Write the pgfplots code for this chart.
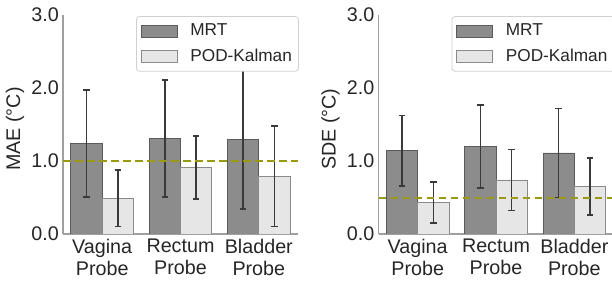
\documentclass[border=0pt]{standalone}
\usepackage{pgfplots}
\pgfplotsset{compat=1.18}
\usepackage{pgfplotstable}
\usepackage{fontspec}
\setmainfont{Liberation Sans}
\definecolor{mrt}{HTML}{8C8C8C}
\definecolor{mrtedge}{HTML}{5A5A5A}
\definecolor{pod}{HTML}{E6E6E6}
\definecolor{podedge}{HTML}{8A8A8A}
\definecolor{errc}{HTML}{3A3A3A}
\definecolor{olivec}{HTML}{9A9A10}
\definecolor{tickc}{HTML}{262626}
\definecolor{spine}{HTML}{A0A0A0}
\definecolor{legedge}{HTML}{D0D0D0}
\newcommand\tickfont{\fontsize{19.8}{22}\selectfont}
\newcommand\legfont{\fontsize{17.3}{20}\selectfont}

\pgfplotstableread{
xm xp m me p pe
-0.2 0.2 1.24 0.73 0.49 0.39
0.8 1.2 1.31 0.80 0.91 0.43
1.8 2.2 1.30 0.96 0.79 0.69
}\maeT
\pgfplotstableread{
xm xp m me p pe
-0.2 0.2 1.14 0.48 0.43 0.28
0.8 1.2 1.20 0.57 0.74 0.42
1.8 2.2 1.11 0.61 0.65 0.39
}\sdeT

\pgfplotsset{
  myax/.style={
    scale only axis, width=235bp, height=219bp,
    anchor=south west,
    xmin=-0.5, xmax=2.5, ymin=0, ymax=3,
    axis x line*=bottom, axis y line*=left,
    axis line style={draw=spine, line width=1.1bp},
    xtick={0,1,2},
    xticklabels={{Vagina\\Probe},{Rectum\\Probe},{Bladder\\Probe}},
    xticklabel style={align=center, font=\tickfont, text=tickc, inner sep=0pt, yshift=-5bp},
    ytick={0,1,2,3},
    yticklabel style={font=\tickfont, text=tickc, inner sep=0pt, xshift=-4bp,
      /pgf/number format/.cd, fixed, fixed zerofill, precision=1, assume math mode=true},
    major tick length=0pt,
    tick style={draw=none},
    ylabel style={font=\tickfont, text=tickc, at={(axis description cs:-0.204,0.479)}, anchor=center, inner sep=0pt},
    legend cell align=left,
    legend image code/.code={
      \draw[##1, sharp corners, line width=0.8bp] (0bp,-6.2bp) rectangle (35.7bp,6.1bp);
      \path[draw=none, fill=none] (0bp,0bp) -- (47bp,0bp);
    },
    legend style={draw=legedge, line width=0.8bp, rounded corners=3bp, fill=white,
      font=\legfont, text=tickc, at={(0.311,0.995)}, anchor=north west,
      inner xsep=4.5bp, inner ysep=4.5bp, row sep=5.5bp, /tikz/column sep=0pt,
      nodes={inner sep=2bp, text height=12.5bp, text depth=3.6bp}},
  },
  mrtbar/.style={ybar, bar width=0.4, bar shift=0, fill=mrt, draw=mrtedge, line width=0.8bp},
  podbar/.style={ybar, bar width=0.4, bar shift=0, fill=pod, draw=podedge, line width=0.8bp},
  eb/.style={error bars/.cd, y dir=both, y explicit,
    error bar style={draw=errc, line width=1.5bp},
    error mark options={draw=errc, rotate=90, mark size=3.2bp, line width=1.5bp}},
}

\begin{document}
\begin{tikzpicture}
\useasboundingbox (0,0) rectangle (612bp,281bp);
\clip (0,0) rectangle (612bp,281bp);
\begin{axis}[myax, at={(63bp,47bp)}, ylabel={MAE (°C)}]
\addplot[mrtbar, eb] table[x=xm, y=m, y error=me] {\maeT};
\addlegendentry{MRT}
\addplot[podbar, eb] table[x=xp, y=p, y error=pe] {\maeT};
\addlegendentry{POD-Kalman}
\addplot[olivec, line width=2bp, dash pattern=on 7.5bp off 4.5bp, forget plot] coordinates {(-0.5,1) (2.5,1)};
\end{axis}
\begin{axis}[myax, at={(378.5bp,47bp)}, ylabel={SDE (°C)}]
\addplot[mrtbar, eb] table[x=xm, y=m, y error=me] {\sdeT};
\addlegendentry{MRT}
\addplot[podbar, eb] table[x=xp, y=p, y error=pe] {\sdeT};
\addlegendentry{POD-Kalman}
\addplot[olivec, line width=2bp, dash pattern=on 7.5bp off 4.5bp, forget plot] coordinates {(-0.5,0.5) (2.5,0.5)};
\end{axis}
\end{tikzpicture}
\end{document}
